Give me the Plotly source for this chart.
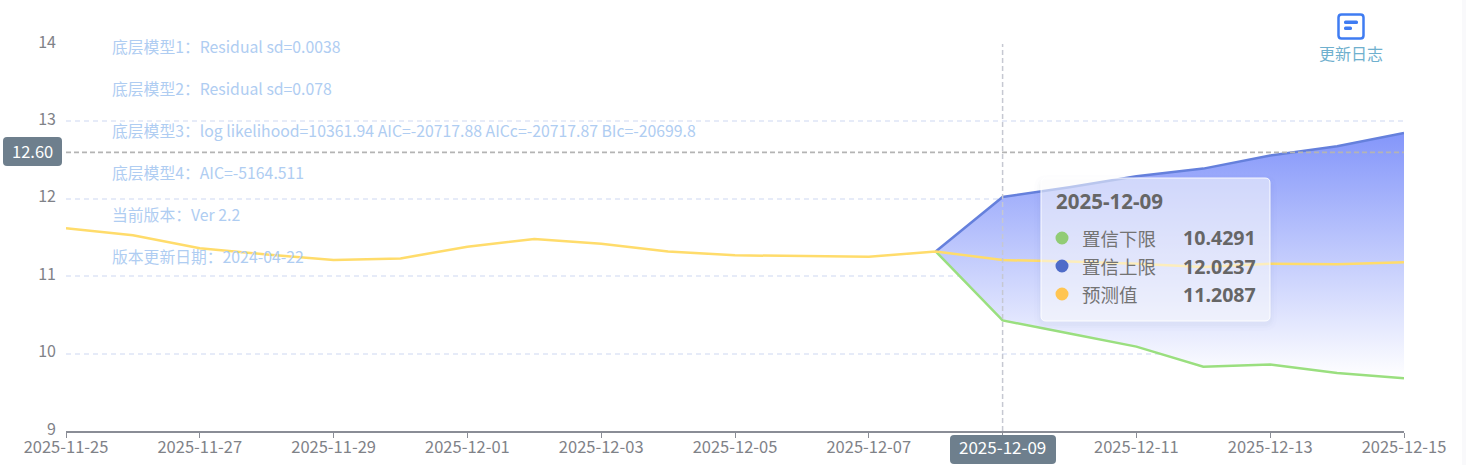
import plotly.graph_objects as go

# 常量定义
WIDTH = 1466
HEIGHT = 465
LEFT, RIGHT, TOP, BOTTOM = 66, 1404, 44, 431
CJK_FONT = "Noto Sans CJK SC"
TICK_COLOR = "#7F8288"
NOTE_COLOR = "#AFCDF2"
PILL_COLOR = "#6E7F8D"
TIP_TEXT = "#666666"

dates = [
    "2025-11-25", "2025-11-26", "2025-11-27", "2025-11-28", "2025-11-29", "2025-11-30",
    "2025-12-01", "2025-12-02", "2025-12-03", "2025-12-04", "2025-12-05", "2025-12-06",
    "2025-12-07", "2025-12-08", "2025-12-09", "2025-12-10", "2025-12-11", "2025-12-12",
    "2025-12-13", "2025-12-14", "2025-12-15",
]
predicted = [
    11.62, 11.53, 11.36, 11.28, 11.21, 11.23, 11.38, 11.48, 11.42, 11.32, 11.27,
    11.26, 11.25, 11.32, 11.2087, 11.19, 11.16, 11.12, 11.16, 11.155, 11.18,
]
band_dates = dates[13:]
upper = [11.32, 12.0237, 12.15, 12.29, 12.39, 12.56, 12.68, 12.85]
lower = [11.32, 10.4291, 10.26, 10.09, 9.83, 9.86, 9.75, 9.68]

tick_dates = dates[::2]
y_ticks = [9, 10, 11, 12, 13, 14]
notes = [
    "底层模型1：Residual sd=0.0038",
    "底层模型2：Residual sd=0.078",
    "底层模型3：log likelihood=10361.94 AIC=-20717.88 AICc=-20717.87 BIc=-20699.8",
    "底层模型4：AIC=-5164.511",
    "当前版本：Ver 2.2",
    "版本更新日期：2024-04-22",
]
pointer_date = "2025-12-09"
pointer_value = 12.60
tip_rows = [
    ("置信下限", "10.4291", "#91CC75"),
    ("置信上限", "12.0237", "#4F6CC8"),
    ("预测值", "11.2087", "#FFC552"),
]


def px_x(x):
    return (x - LEFT) / (RIGHT - LEFT)


def px_y(y):
    return (BOTTOM - y) / (BOTTOM - TOP)


def round_rect(x0, y0, x1, y1, r, **kw):
    # 圆角矩形，坐标是页面像素
    p = [
        f"M{px_x(x0 + r)},{px_y(y0)}", f"L{px_x(x1 - r)},{px_y(y0)}",
        f"Q{px_x(x1)},{px_y(y0)} {px_x(x1)},{px_y(y0 + r)}", f"L{px_x(x1)},{px_y(y1 - r)}",
        f"Q{px_x(x1)},{px_y(y1)} {px_x(x1 - r)},{px_y(y1)}", f"L{px_x(x0 + r)},{px_y(y1)}",
        f"Q{px_x(x0)},{px_y(y1)} {px_x(x0)},{px_y(y1 - r)}", f"L{px_x(x0)},{px_y(y0 + r)}",
        f"Q{px_x(x0)},{px_y(y0)} {px_x(x0 + r)},{px_y(y0)}", "Z",
    ]
    return dict(type="path", path=" ".join(p), xref="paper", yref="paper", layer="above", **kw)


def label(x, y, text, size, color, xanchor="left", bold=False, family=CJK_FONT):
    return dict(
        x=px_x(x), y=px_y(y), xref="paper", yref="paper", text=f"<b>{text}</b>" if bold else text,
        showarrow=False, xanchor=xanchor, yanchor="middle", borderpad=0,
        font=dict(size=size, color=color, family=family),
    )


fig = go.Figure()

# 下限在前，上限用 tonexty 填充到下限
fig.add_trace(go.Scatter(
    x=band_dates, y=lower, mode="lines", line=dict(color="#9ADF7F", width=2.5), showlegend=False,
))
fig.add_trace(go.Scatter(
    x=band_dates, y=upper, mode="lines", line=dict(color="#6580DC", width=2.5), fill="tonexty",
    fillgradient=dict(
        type="vertical",
        colorscale=[[0, "rgba(255,255,255,1)"], [1, "rgba(132,150,250,1)"]],
    ),
    showlegend=False,
))
fig.add_trace(go.Scatter(
    x=dates, y=predicted, mode="lines", line=dict(color="#FFDC6B", width=2.5), showlegend=False,
))

shapes = []
annotations = []

# 十字准线
shapes.append(dict(type="line", x0=dates[0], x1=dates[-1], y0=pointer_value, y1=pointer_value,
                   xref="x", yref="y", layer="above", line=dict(color="#B4B4B4", width=1.7, dash="5px,3px")))
shapes.append(dict(type="line", x0=pointer_date, x1=pointer_date, y0=y_ticks[0], y1=y_ticks[-1],
                   xref="x", yref="y", layer="above", line=dict(color="#C6C8D2", width=1.5, dash="5px,3px")))

# 坐标轴指示标签
shapes.append(round_rect(3, 137, 62, 166, 4, fillcolor=PILL_COLOR, line=dict(width=0)))
annotations.append(label(32, 151, f"{pointer_value:.2f}", 16.5, "white", "center"))
shapes.append(round_rect(950, 435, 1056, 464, 4, fillcolor=PILL_COLOR, line=dict(width=0)))
annotations.append(label(1003, 446.5, pointer_date, 17, "white", "center"))

# 左侧说明文字
for i, note in enumerate(notes):
    annotations.append(label(111, 46 + i * 42, note, 15.8, NOTE_COLOR))

# 提示框：阴影 + 半透明底
for grow, alpha in [(7, 0.006), (4, 0.01), (2, 0.014)]:
    shapes.append(round_rect(1041 - grow, 182 - grow, 1270 + grow, 324 + grow, 6 + grow,
                             fillcolor=f"rgba(40,50,90,{alpha})", line=dict(width=0)))
shapes.append(round_rect(1041, 178, 1270, 321, 5, fillcolor="rgba(255,255,255,0.56)",
                         line=dict(color="rgba(255,255,255,0.9)", width=1)))
annotations.append(label(1055, 201, pointer_date, 20.5, TIP_TEXT, bold=True, family="Noto Sans"))
for i, (name, value, color) in enumerate(tip_rows):
    y = 238 + i * 28
    shapes.append(dict(type="circle", xref="paper", yref="paper", layer="above",
                       x0=px_x(1055.5), x1=px_x(1068.5), y0=px_y(y + 6.5), y1=px_y(y - 6.5),
                       fillcolor=color, line=dict(width=0)))
    annotations.append(label(1081, y, name, 18.5, "#737373"))
    annotations.append(label(1257, y, value, 19.6, TIP_TEXT, "right", bold=True, family="Noto Sans"))

# 更新日志图标
shapes.append(round_rect(1338.5, 14.5, 1363.5, 38.5, 3, fillcolor="white", line=dict(color="#3F7CF2", width=2.5)))
shapes.append(round_rect(1344, 20.5, 1358, 24, 1.5, fillcolor="#3F7CF2", line=dict(width=0)))
shapes.append(round_rect(1344, 26.5, 1352, 30, 1.5, fillcolor="#3F7CF2", line=dict(width=0)))
annotations.append(label(1351, 53, "更新日志", 16, "#6FB0CE", "center"))

# 右侧浅色边条
shapes.append(dict(type="rect", xref="paper", yref="paper", layer="below", x0=px_x(1462), x1=px_x(WIDTH),
                   y0=px_y(HEIGHT), y1=px_y(0), fillcolor="#F9F9FB", line=dict(width=0)))

fig.update_layout(
    width=WIDTH,
    height=HEIGHT,
    margin=dict(l=LEFT, r=WIDTH - RIGHT, t=TOP, b=HEIGHT - BOTTOM, pad=0),
    paper_bgcolor="white",
    plot_bgcolor="white",
    showlegend=False,
    font=dict(family=CJK_FONT, size=14, color=TICK_COLOR),
    shapes=shapes,
    annotations=annotations,
)
fig.update_xaxes(
    type="date",
    automargin=False,
    range=[dates[0], dates[-1]],
    tickvals=tick_dates,
    # 指针所在的日期由深色标签显示
    ticktext=["" if d == pointer_date else d for d in tick_dates],
    ticks="outside",
    ticklen=5,
    tickcolor="#8A8D96",
    tickfont=dict(size=16.5, color=TICK_COLOR),
    ticklabelstandoff=-5,
    showline=True,
    linecolor="#8A8D96",
    linewidth=2,
    showgrid=False,
    zeroline=False,
)
fig.update_yaxes(
    automargin=False,
    range=[y_ticks[0], y_ticks[-1]],
    tickvals=y_ticks,
    ticks="",
    ticklabelstandoff=9,
    ticklabelshift=-2,
    tickfont=dict(size=16, color=TICK_COLOR),
    showline=False,
    showgrid=True,
    gridcolor="#E6EBF8",
    griddash="5px,4px",
    gridwidth=1.5,
    zeroline=False,
)

fig.write_html(
    "out.html",
    config={"displayModeBar": False, "responsive": False},
    default_width=f"{WIDTH}px",
    default_height=f"{HEIGHT}px",
    post_script="document.body.style.margin='0';",
)
